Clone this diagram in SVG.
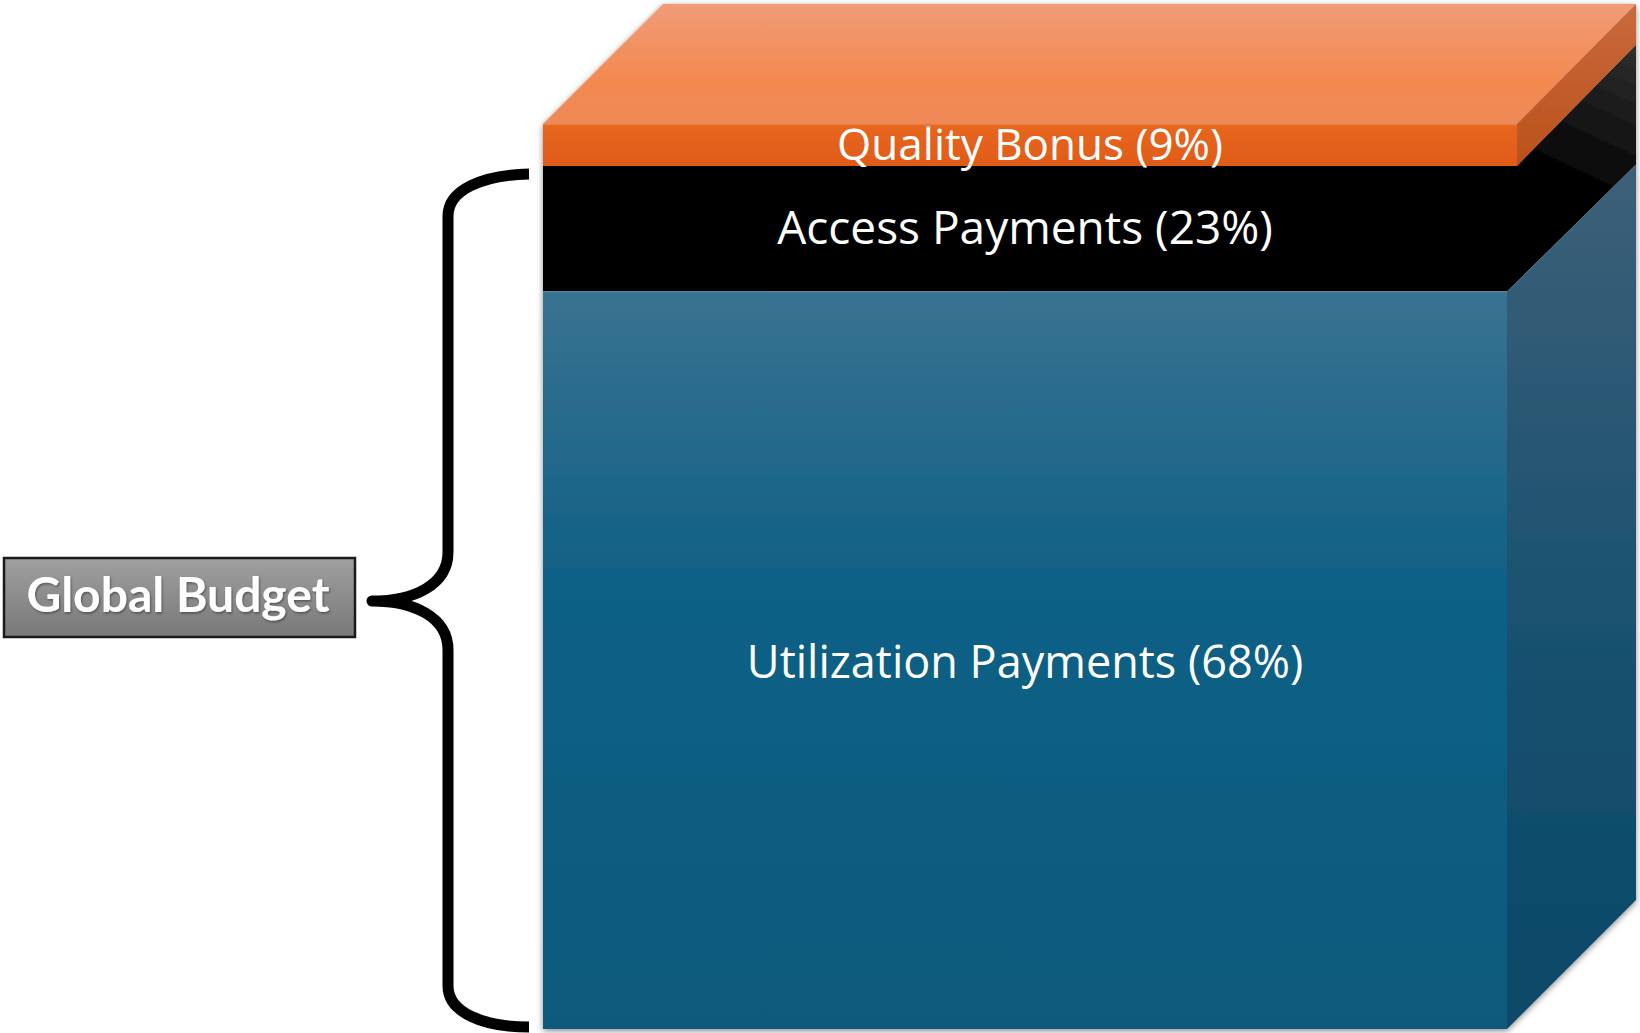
<svg xmlns="http://www.w3.org/2000/svg" width="1640" height="1033" viewBox="0 0 1640 1033">
  <defs>
    <linearGradient id="topFace" x1="0" y1="0" x2="0" y2="1">
      <stop offset="0" stop-color="#f09c78"/>
      <stop offset="0.65" stop-color="#f3894f"/>
      <stop offset="1" stop-color="#ee8a58"/>
    </linearGradient>
    <linearGradient id="orangeFront" x1="0" y1="0" x2="0" y2="1">
      <stop offset="0" stop-color="#e7671f"/>
      <stop offset="1" stop-color="#e05b18"/>
    </linearGradient>
    <linearGradient id="orangeSide" x1="0" y1="0" x2="0" y2="1">
      <stop offset="0" stop-color="#c96a3e"/>
      <stop offset="1" stop-color="#bb511a"/>
    </linearGradient>
    <linearGradient id="blackSide" gradientUnits="userSpaceOnUse" x1="1636" y1="50" x2="1570" y2="190">
      <stop offset="0" stop-color="#2e2e2e"/>
      <stop offset="1" stop-color="#000000"/>
    </linearGradient>
    <linearGradient id="blueFront" x1="0" y1="0" x2="0" y2="1">
      <stop offset="0" stop-color="#3a7291"/>
      <stop offset="0.4" stop-color="#0f6086"/>
      <stop offset="1" stop-color="#0b5a7d"/>
    </linearGradient>
    <linearGradient id="blueSide" x1="0" y1="0" x2="0" y2="1">
      <stop offset="0" stop-color="#3d6078"/>
      <stop offset="0.5" stop-color="#1b5270"/>
      <stop offset="1" stop-color="#084868"/>
    </linearGradient>
    <linearGradient id="labelFill" x1="0" y1="0" x2="0" y2="1">
      <stop offset="0" stop-color="#a0a0a0"/>
      <stop offset="1" stop-color="#787878"/>
    </linearGradient>
    <filter id="softShadow" x="-5%" y="-5%" width="110%" height="110%">
      <feDropShadow dx="0" dy="2" stdDeviation="3" flood-color="#000" flood-opacity="0.45"/>
    </filter>
    <filter id="textShadow" x="-5%" y="-20%" width="110%" height="140%">
      <feDropShadow dx="1" dy="1.5" stdDeviation="1" flood-color="#000" flood-opacity="0.4"/>
    </filter>
  </defs>
  <style>
    .seg-label { font-family: "Open Sans", "Liberation Sans", sans-serif; fill: #ffffff; text-anchor: middle; }
    .brace { fill: none; stroke: #000; stroke-width: 11; stroke-linecap: butt; stroke-linejoin: round; }
    .edge { stroke-width: 1.5; fill: none; }
  </style>

  <rect width="1640" height="1033" fill="#ffffff"/>

  <!-- stacked budget block -->
  <g id="block" filter="url(#softShadow)">
    <g id="utilization">
      <rect x="543" y="291" width="964" height="738" fill="url(#blueFront)"/>
      <polygon points="1507,291 1636,164 1636,900 1507,1029" fill="url(#blueSide)"/>
      <line class="edge" x1="543" y1="291.5" x2="1507" y2="291.5" stroke="#5b8299"/>
      <line class="edge" x1="1507" y1="291" x2="1636" y2="164" stroke="#5d7b90"/>
    </g>
    <g id="access">
      <polygon points="543,166 1517,166 1636,45 1636,164 1507,291 543,291" fill="#000"/>
      <polygon points="1517,166 1636,45 1636,164 1507,291" fill="url(#blackSide)"/>
    </g>
    <g id="quality">
      <polygon points="543,124 663,4 1636,4 1517,124" fill="url(#topFace)"/>
      <rect x="543" y="124" width="974" height="42" fill="url(#orangeFront)"/>
      <polygon points="1517,124 1636,4 1636,45 1517,166" fill="url(#orangeSide)"/>
      <line class="edge" x1="543" y1="124.5" x2="1517" y2="124.5" stroke="#ee7d45"/>
    </g>
  </g>

  <text class="seg-label" x="1030" y="160" font-size="44">Quality Bonus (9%)</text>
  <text class="seg-label" x="1025" y="244" font-size="46">Access Payments (23%)</text>
  <text class="seg-label" x="1025" y="678" font-size="45">Utilization Payments (68%)</text>

  <!-- curly brace grouping the block -->
  <g id="connectors">
    <path class="brace" d="M529,174 C482,175 448,190 448,216 L448,552 C448,585 414,601 372,601 C414,601 448,617 448,650 L448,986 C448,1012 482,1027 529,1027"/>
  </g>

  <g id="global-budget">
    <rect x="4" y="558" width="351" height="79" fill="url(#labelFill)" stroke="#1a1a1a" stroke-width="2.5"/>
    <text x="178" y="612" font-family="Lato, 'Open Sans', sans-serif" font-weight="bold" font-size="48" fill="#ffffff" text-anchor="middle" filter="url(#textShadow)">Global Budget</text>
  </g>
</svg>
